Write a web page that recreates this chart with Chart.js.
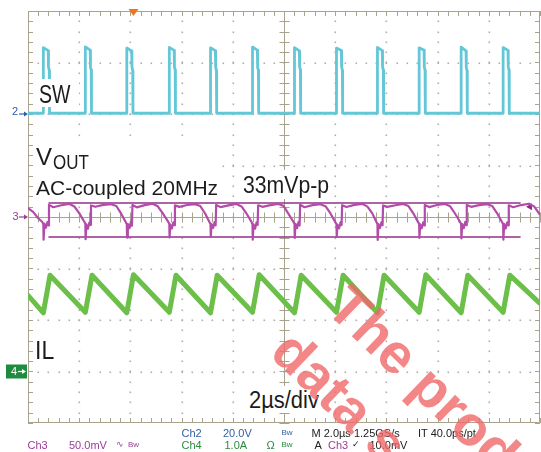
<!DOCTYPE html>
<html>
<head>
<meta charset="utf-8">
<script src="https://cdn.jsdelivr.net/npm/chart.js@4/dist/chart.umd.min.js"></script>
<style>
  body { margin: 0; background: #fff; }
  #wrap { position: relative; width: 541px; height: 452px; overflow: hidden; background: #fff; }
  #scope { position: absolute; left: 0; top: 0; }
  .box { position: absolute; background: #fff; }
  .lbl { position: absolute; font-family: "Liberation Sans", Arial, sans-serif; line-height: 1; white-space: nowrap; color: #1c1c1c; transform-origin: 0 0; }
  .st { position: absolute; font-family: "Liberation Sans", Arial, sans-serif; font-size: 11px; line-height: 1; white-space: nowrap; color: #222; }
  .bw { font-size: 8px; }
  .wm { position: absolute; font-family: "Liberation Sans", Arial, sans-serif; font-weight: bold; font-size: 56px; line-height: 1; white-space: nowrap; color: rgba(240, 105, 105, 0.8); transform: rotate(44deg); transform-origin: 0 0; }
</style>
</head>
<body>
<div id="wrap">
  <canvas id="scope" width="541" height="452"></canvas>

  <div class="box" style="left:36px;top:79px;width:43px;height:28px"></div>
  <div class="box" style="left:33px;top:143px;width:185px;height:57px"></div>
  <div class="box" style="left:240px;top:170px;width:92px;height:29px"></div>
  <div class="box" style="left:33px;top:336px;width:26px;height:28px"></div>
  <div class="box" style="left:246px;top:386px;width:76px;height:27px"></div>

  <div class="lbl" style="left:39px;top:82px;font-size:25px;transform:scaleX(0.78)">SW</div>
  <div class="lbl" style="left:36px;top:145px;font-size:24px">V</div>
  <div class="lbl" style="left:53px;top:152.5px;font-size:19.5px;transform:scaleX(0.87)">OUT</div>
  <div class="lbl" style="left:36px;top:177.3px;font-size:21px">AC-coupled 20MHz</div>
  <div class="lbl" style="left:243.3px;top:173.7px;font-size:23.3px;transform:scaleX(0.91)">33mVp-p</div>
  <div class="lbl" style="left:34.5px;top:338.4px;font-size:25.6px;transform:scaleX(0.9)">IL</div>
  <div class="lbl" style="left:249px;top:388.7px;font-size:23.3px;transform:scaleX(0.94)">2µs/div</div>

  <div class="st" style="left:12px;top:106px;color:#2f5ea8">2</div>
  <div class="st" style="left:12.5px;top:211px;color:#9b3b98">3</div>
  <div class="st" style="left:11px;top:366px;color:#fff">4</div>

  <div class="st" style="left:27.5px;top:440.3px;color:#9b3b98">Ch3</div>
  <div class="st" style="left:69px;top:440.3px;color:#9b3b98">50.0mV</div>
  <div class="st" style="left:115.5px;top:440.3px;color:#9b3b98;font-size:9px">∿</div>
  <div class="st bw" style="left:128px;top:441px;color:#9b3b98">Bw</div>

  <div class="st" style="left:181.5px;top:427.6px;color:#2f5ea8">Ch2</div>
  <div class="st" style="left:223px;top:427.6px;color:#2f5ea8">20.0V</div>
  <div class="st bw" style="left:281.5px;top:428.5px;color:#2f5ea8">Bw</div>
  <div class="st" style="left:311.5px;top:427.6px">M 2.0µs 1.25GS/s</div>
  <div class="st" style="left:418px;top:427.6px">IT 40.0ps/pt</div>

  <div class="st" style="left:181.5px;top:440.3px;color:#2b8a3e">Ch4</div>
  <div class="st" style="left:224.5px;top:440.3px;color:#2b8a3e">1.0A</div>
  <div class="st" style="left:266.5px;top:440.3px;color:#2b8a3e">Ω</div>
  <div class="st bw" style="left:281.5px;top:441px;color:#2b8a3e">Bw</div>
  <div class="st" style="left:314.5px;top:440.3px">A</div>
  <div class="st" style="left:328px;top:440.3px;color:#9b3b98">Ch3</div>
  <div class="st" style="left:351.5px;top:440.3px;font-size:9px">✓</div>
  <div class="st" style="left:369.5px;top:440.3px">10.0mV</div>

  <div class="wm" style="left:357px;top:276px">The prod</div>
  <div class="wm" style="left:301px;top:321px">data s</div>
</div>

<script>
// time axis in µs, 0 = screen centre, 2 µs/div
const timeRange = [-10, 10]
const divRange = [-4, 4]

// channel settings: position (div) and scale per div
const ch2Offset = 2, ch2PerDiv = 20      // SW, V
const ch3Offset = 0, ch3PerDiv = 50      // VOUT, mV (AC coupled)
const ch4Offset = -3, ch4PerDiv = 1      // IL, A

// CH2 - switch node (V)
const swTime = [
  -10.00,
  -9.40, -9.40, -9.21, -9.20, -9.17, -9.16,
  -7.76, -7.76, -7.57, -7.56, -7.53, -7.52,
  -6.14, -6.14, -5.95, -5.94, -5.91, -5.90,
  -4.48, -4.48, -4.29, -4.28, -4.25, -4.24,
  -2.87, -2.87, -2.68, -2.67, -2.64, -2.63,
  -1.23, -1.23, -1.04, -1.03, -1.00, -0.99,
  0.41, 0.41, 0.60, 0.61, 0.64, 0.65,
  2.05, 2.05, 2.24, 2.25, 2.28, 2.29,
  3.65, 3.65, 3.84, 3.85, 3.88, 3.89,
  5.28, 5.28, 5.47, 5.48, 5.51, 5.52,
  6.92, 6.92, 7.11, 7.12, 7.15, 7.16,
  8.56, 8.56, 8.75, 8.76, 8.79, 8.80,
  10.00
]
const swVolt = [
  0.3,
  0.3, 25.8, 24.6, 18.2, 17.0, 0.3,
  0.3, 26.1, 24.8, 18.0, 17.2, 0.3,
  0.3, 25.6, 24.5, 18.4, 16.8, 0.3,
  0.3, 25.9, 24.7, 18.1, 17.1, 0.3,
  0.3, 25.7, 24.6, 18.3, 16.9, 0.3,
  0.3, 26.0, 24.8, 18.0, 17.0, 0.3,
  0.3, 25.8, 24.5, 18.2, 17.2, 0.3,
  0.3, 25.6, 24.7, 18.4, 16.9, 0.3,
  0.3, 25.9, 24.6, 18.1, 17.1, 0.3,
  0.3, 25.7, 24.8, 18.3, 17.0, 0.3,
  0.3, 26.0, 24.5, 18.0, 16.8, 0.3,
  0.3, 25.8, 24.7, 18.2, 17.1, 0.3,
  0.3
]

// CH3 - output ripple (mV)
const voutTime = [
  -10.00, -9.80, -9.61,
  -9.44, -9.40, -9.39, -9.36, -9.30, -9.24, -9.20, -9.18, -9.01, -8.70, -8.39, -8.19, -8.00,
  -7.80, -7.76, -7.75, -7.72, -7.66, -7.60, -7.56, -7.54, -7.37, -7.06, -6.75, -6.55, -6.36,
  -6.18, -6.14, -6.13, -6.10, -6.04, -5.98, -5.94, -5.92, -5.75, -5.44, -5.13, -4.93, -4.74,
  -4.52, -4.48, -4.47, -4.44, -4.38, -4.32, -4.28, -4.26, -4.09, -3.78, -3.47, -3.27, -3.08,
  -2.91, -2.87, -2.86, -2.83, -2.77, -2.71, -2.67, -2.65, -2.48, -2.17, -1.86, -1.66, -1.47,
  -1.27, -1.23, -1.22, -1.19, -1.13, -1.07, -1.03, -1.01, -0.84, -0.53, -0.22, -0.02, 0.17,
  0.37, 0.41, 0.42, 0.45, 0.51, 0.57, 0.61, 0.63, 0.80, 1.11, 1.42, 1.62, 1.81,
  2.01, 2.05, 2.06, 2.09, 2.15, 2.21, 2.25, 2.27, 2.44, 2.75, 3.06, 3.26, 3.45,
  3.61, 3.65, 3.66, 3.69, 3.75, 3.81, 3.85, 3.87, 4.04, 4.35, 4.66, 4.86, 5.05,
  5.24, 5.28, 5.29, 5.32, 5.38, 5.44, 5.48, 5.50, 5.67, 5.98, 6.29, 6.49, 6.68,
  6.88, 6.92, 6.93, 6.96, 7.02, 7.08, 7.12, 7.14, 7.31, 7.62, 7.93, 8.13, 8.32,
  8.52, 8.56, 8.57, 8.60, 8.66, 8.72, 8.76, 8.78, 8.95, 9.26, 9.57, 9.77, 9.96,
  10.00
]
const voutMv = [
  8.7, 5.0, -1.0,
  -4.9, -7.0, -22.0, -6.5, -10.5, -4.8, -8.2, 11.8, 9.5, 11.4, 12.8, 10.2, 3.8,
  -4.6, -6.5, -21.5, -7.2, -11.4, -5.3, -7.6, 11.2, 9.9, 11.8, 12.4, 10.7, 3.2,
  -5.1, -7.1, -20.0, -6.8, -10.8, -4.6, -8.4, 11.6, 9.4, 11.5, 12.9, 10.4, 3.7,
  -4.8, -6.6, -19.8, -7.3, -11.2, -5.1, -7.9, 11.3, 9.8, 11.7, 12.5, 10.6, 3.4,
  -5.0, -6.9, -19.2, -6.9, -10.6, -4.9, -8.1, 11.7, 9.6, 11.3, 12.7, 10.3, 3.6,
  -4.7, -7.2, -22.0, -7.1, -11.3, -5.2, -7.7, 11.4, 9.9, 11.6, 12.6, 10.8, 3.3,
  -4.9, -6.7, -20.3, -6.6, -10.9, -4.7, -8.3, 11.9, 9.5, 11.5, 12.4, 10.5, 3.7,
  -5.2, -7.0, -19.4, -7.4, -11.1, -5.0, -7.8, 11.5, 9.7, 11.8, 12.8, 10.1, 3.5,
  -4.8, -6.8, -22.3, -6.9, -10.7, -4.9, -8.0, 11.2, 9.8, 11.4, 12.6, 10.6, 3.6,
  -5.0, -6.6, -20.4, -7.2, -11.0, -5.1, -8.2, 11.6, 9.6, 11.7, 12.7, 10.4, 3.4,
  -4.9, -7.1, -20.8, -7.0, -10.8, -4.8, -7.9, 11.7, 9.9, 11.5, 12.5, 10.7, 3.8,
  -5.1, -6.9, -22.0, -6.7, -11.2, -5.2, -8.1, 11.4, 9.5, 11.6, 12.9, 10.3, 3.5,
  2.5
]

// CH4 - inductor current (A)
const ilTime = [-10.00, -9.40, -9.14, -7.76, -7.50, -6.14, -5.88, -4.48, -4.22, -2.87, -2.61,
  -1.23, -0.97, 0.41, 0.67, 2.05, 2.31, 3.65, 3.91, 5.28, 5.54, 6.92, 7.18, 8.56, 8.82, 10.00]
const ilAmp = [1.48, 1.14, 1.87, 1.15, 1.87, 1.14, 1.88, 1.15, 1.87, 1.14, 1.87,
  1.15, 1.88, 1.14, 1.87, 1.15, 1.87, 1.14, 1.87, 1.15, 1.88, 1.14, 1.87, 1.15, 1.87, 1.32]

// cursors on CH3 (33mVp-p)
const cursorTime = [-9.18, 9.22]
const cursorMv = [13.6, -19.4]

const triggerTime = -5.88
const triggerLevelMv = 10.0

const toDiv = (times, vals, offset, perDiv) => times.map((t, i) => ({x: t, y: offset + vals[i] / perDiv}))

function arrow(ctx, y, x0, x1, color){
    ctx.strokeStyle = color
    ctx.fillStyle = color
    ctx.lineWidth = 1.2
    ctx.beginPath()
    ctx.moveTo(x0, y); ctx.lineTo(x1 - 3, y)
    ctx.stroke()
    ctx.beginPath()
    ctx.moveTo(x1, y); ctx.lineTo(x1 - 4, y - 2.5); ctx.lineTo(x1 - 4, y + 2.5)
    ctx.closePath(); ctx.fill()
}

const scopeFrame = {
    id: "scopeFrame",
    beforeDatasetsDraw(chart){
        const ctx = chart.ctx
        const a = chart.chartArea
        const x = chart.scales.x
        const y = chart.scales.y
        const cx = Math.round(x.getPixelForValue(0)) + 0.5
        const cy = Math.round(y.getPixelForValue(0)) + 0.5
        ctx.save()

        // dotted graticule at every minor division
        ctx.fillStyle = "#adadad"
        for(let t = timeRange[0] + 2; t < timeRange[1] - 0.01; t += 2){
            if(Math.abs(t) < 0.01) continue
            const px = Math.round(x.getPixelForValue(t))
            for(let d = divRange[0] + 0.2; d < divRange[1] - 0.01; d += 0.2){
                ctx.fillRect(px - 0.5, Math.round(y.getPixelForValue(d)) - 0.5, 1.6, 1.6)
            }
        }
        for(let d = divRange[0] + 1; d < divRange[1] - 0.01; d += 1){
            if(Math.abs(d) < 0.01) continue
            const py = Math.round(y.getPixelForValue(d))
            for(let t = timeRange[0] + 0.4; t < timeRange[1] - 0.01; t += 0.4){
                ctx.fillRect(Math.round(x.getPixelForValue(t)) - 0.5, py - 0.5, 1.6, 1.6)
            }
        }

        ctx.strokeStyle = "#a7a38c"
        ctx.lineWidth = 1
        ctx.beginPath()
        ctx.rect(a.left + 0.5, a.top + 0.5, a.right - a.left - 1, a.bottom - a.top - 1)
        ctx.moveTo(cx, a.top); ctx.lineTo(cx, a.bottom)
        ctx.moveTo(a.left, cy); ctx.lineTo(a.right, cy)
        for(let t = timeRange[0]; t <= timeRange[1] + 0.001; t += 0.4){
            const px = Math.round(x.getPixelForValue(t)) + 0.5
            ctx.moveTo(px, a.top); ctx.lineTo(px, a.top + 5)
            ctx.moveTo(px, a.bottom); ctx.lineTo(px, a.bottom - 5)
            ctx.moveTo(px, cy - 5); ctx.lineTo(px, cy + 5)
        }
        for(let d = divRange[0]; d <= divRange[1] + 0.001; d += 0.2){
            const py = Math.round(y.getPixelForValue(d)) + 0.5
            ctx.moveTo(a.left, py); ctx.lineTo(a.left + 5, py)
            ctx.moveTo(a.right, py); ctx.lineTo(a.right - 5, py)
            ctx.moveTo(cx - 5, py); ctx.lineTo(cx + 5, py)
        }
        ctx.stroke()

        // trigger position marker
        const tx = x.getPixelForValue(triggerTime)
        ctx.fillStyle = "#f27222"
        ctx.beginPath()
        ctx.moveTo(tx - 5, a.top - 2); ctx.lineTo(tx + 5, a.top - 2); ctx.lineTo(tx, a.top + 5)
        ctx.closePath(); ctx.fill()

        // trigger level marker (ch3)
        const ly = y.getPixelForValue(ch3Offset + triggerLevelMv / ch3PerDiv)
        ctx.fillStyle = "#8e2f84"
        ctx.beginPath()
        ctx.moveTo(a.right - 14, ly); ctx.lineTo(a.right - 8, ly - 3.5); ctx.lineTo(a.right - 8, ly + 3.5)
        ctx.closePath(); ctx.fill()

        // channel ground markers
        const y2 = y.getPixelForValue(ch2Offset)
        const y3 = y.getPixelForValue(ch3Offset)
        const y4 = y.getPixelForValue(ch4Offset)
        arrow(ctx, y2, 19, a.left, "#2f5ea8")
        arrow(ctx, y3, 19, a.left, "#9b3b98")
        ctx.fillStyle = "#1f8b3f"
        ctx.fillRect(6, y4 - 7, 21, 14)
        arrow(ctx, y4, 18, 26, "#ffffff")
        ctx.restore()
    }
}

const trace = (data, color, width) => ({
    data: data,
    borderColor: color,
    borderWidth: width,
    showLine: true,
    pointRadius: 0,
    tension: 0,
    borderJoinStyle: "round",
    borderCapStyle: "round"
})

new Chart(document.getElementById("scope").getContext("2d"), {
    type: "scatter",
    data: {
        datasets: [
            trace(toDiv(ilTime, ilAmp, ch4Offset, ch4PerDiv), "#6cbf48", 5),
            trace(toDiv(swTime, swVolt, ch2Offset, ch2PerDiv), "#63c7d7", 2.8),
            trace(toDiv(voutTime, voutMv, ch3Offset, ch3PerDiv), "#b34ba8", 2.2),
            trace(toDiv(cursorTime, [cursorMv[0], cursorMv[0]], ch3Offset, ch3PerDiv), "#95308a", 1.5),
            trace(toDiv(cursorTime, [cursorMv[1], cursorMv[1]], ch3Offset, ch3PerDiv), "#95308a", 1.5)
        ]
    },
    options: {
        responsive: false,
        animation: false,
        layout: { padding: { left: 28, top: 11, right: 1, bottom: 29 } },
        plugins: { legend: { display: false }, tooltip: { enabled: false } },
        scales: {
            x: {
                type: "linear", min: timeRange[0], max: timeRange[1],
                ticks: { display: false, stepSize: 2 },
                grid: { display: false, drawTicks: false },
                border: { display: false }
            },
            y: {
                type: "linear", min: divRange[0], max: divRange[1],
                ticks: { display: false, stepSize: 1 },
                grid: { display: false, drawTicks: false },
                border: { display: false }
            }
        }
    },
    plugins: [scopeFrame]
})
</script>
</body>
</html>
